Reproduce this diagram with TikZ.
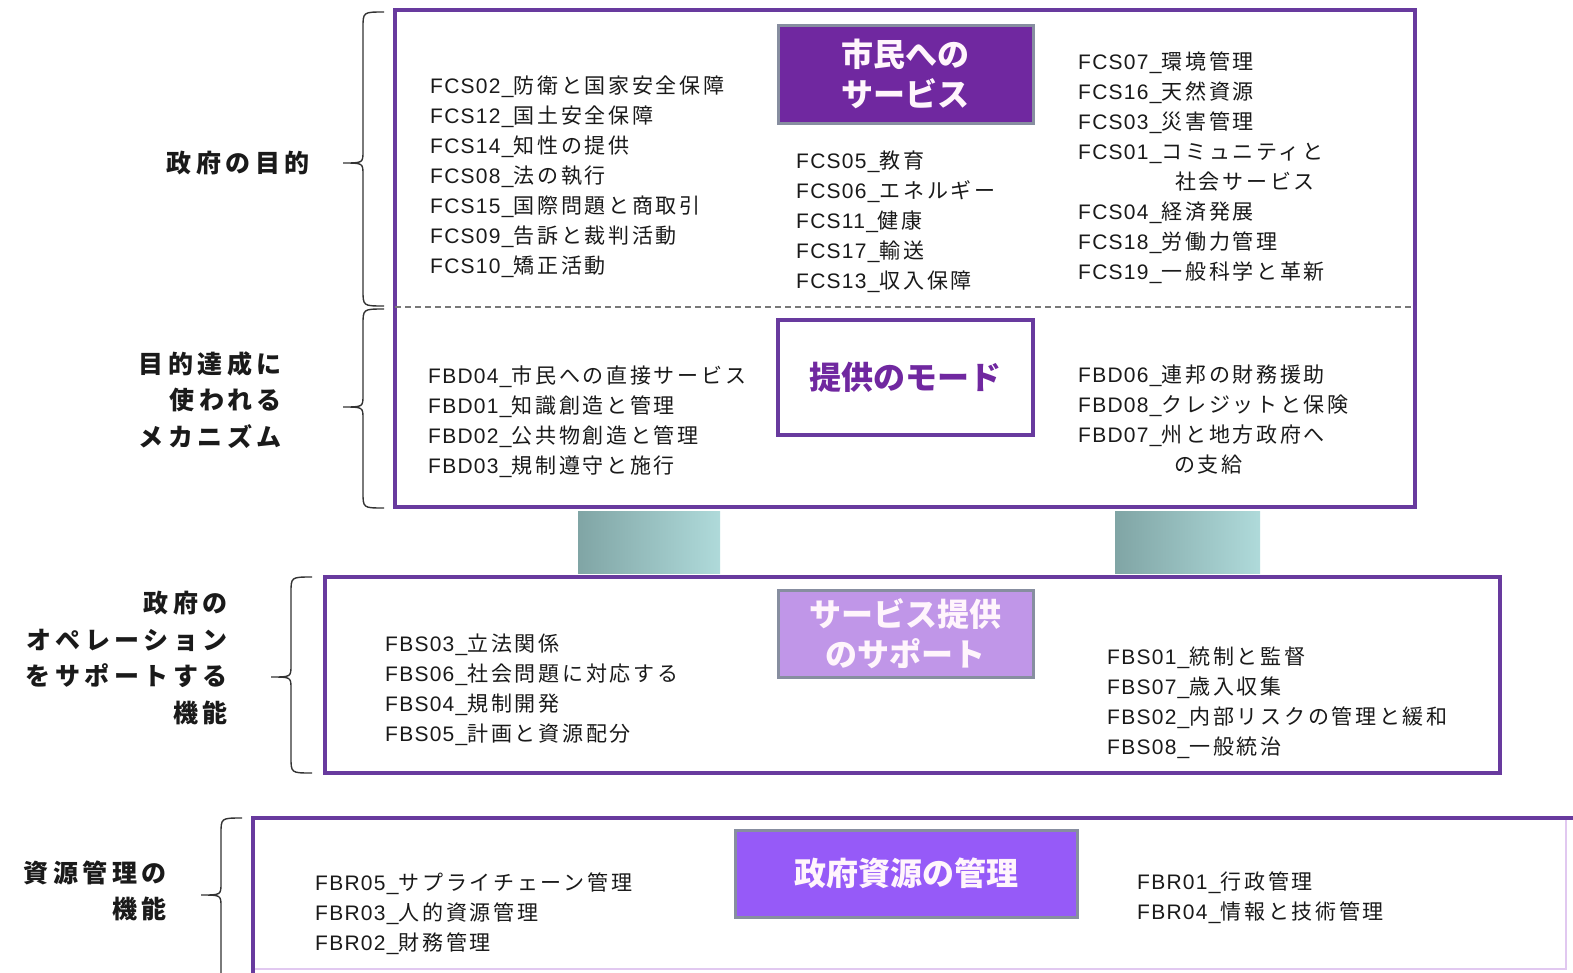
\documentclass[tikz,border=0pt]{standalone}
\usepackage{fontspec}
\usetikzlibrary{calc}
\newfontfamily\listfont{Noto Sans CJK JP}[LetterSpace=13]
\newfontfamily\latinfont{Liberation Sans}[LetterSpace=6]
\newfontfamily\labfont{Noto Sans CJK JP}[LetterSpace=18]
\newfontfamily\ttlfont{Noto Sans CJK JP}
\newcommand\code[1]{{\latinfont #1\_}}
\definecolor{boxpurple}{RGB}{104,58,158}
\definecolor{tdark}{RGB}{112,40,160}
\definecolor{tlight}{RGB}{192,150,232}
\definecolor{tviolet}{RGB}{150,90,248}
\definecolor{tborder}{RGB}{135,142,160}
\definecolor{pilL}{RGB}{128,165,165}
\definecolor{pilR}{RGB}{175,218,218}
\definecolor{txt}{RGB}{26,26,26}
\definecolor{lav}{RGB}{225,200,240}
\definecolor{dashgray}{RGB}{120,120,120}
\definecolor{ttxt}{RGB}{255,245,252}
\newcommand\sidebrace[4]{\draw[bracestyle] (#1+21,#2) .. controls (#1,#2) .. (#1,#2+16) -- (#1,#3-12) .. controls (#1,#3) .. (#1-20,#3) .. controls (#1,#3) .. (#1,#3+12) -- (#1,#4-16) .. controls (#1,#4) .. (#1+21,#4);}
\tikzset{
  bigbox/.style={draw=boxpurple, line width=4pt, fill=white, inner sep=0pt},
  titlebox/.style={draw=tborder, line width=3pt, inner sep=0pt, minimum width=255pt, align=center,
    font={\ttlfont\bfseries\fontsize{32}{40}\selectfont}, text=ttxt},
  listtext/.style={anchor=west, inner sep=0pt, align=left, text=txt,
    font={\listfont\fontsize{21}{30}\selectfont}},
  sidelabel/.style={anchor=east, inner sep=0pt, align=right, text=txt,
    font={\labfont\bfseries\fontsize{25}{36.5}\selectfont}},
  bracestyle/.style={draw=black!80, line width=1.4pt},
  pillar/.style={left color=pilL, right color=pilR}
}
\begin{document}
\begin{tikzpicture}[x=1pt,y=-1pt]
\useasboundingbox[fill=white] (0,0) rectangle (1573,972);

% main boxes
\node[bigbox, minimum width=1020pt, minimum height=497pt] (top) at (905,258.5) {};
\node[bigbox, minimum width=1175pt, minimum height=196pt] (mid) at (912.5,675) {};

% pillars between the boxes
\path[pillar] ($(top.south west)+(185,2)$) rectangle ($(mid.north west)+(397,-2)$);
\path[pillar] ($(top.south west)+(722,2)$) rectangle ($(mid.north west)+(937,-2)$);

% dashed divider
\draw[dashgray, line width=1.3pt, dash pattern=on 6pt off 4pt] ($(top.west)+(2,48.5)$) -- ($(top.east)+(-2,48.5)$);

% bottom box (cut by the picture edge)
\draw[lav, line width=1.5pt] (1566,818) -- (1566,969) -- (253,969);
\draw[boxpurple, line width=4pt] (1573,818) -- (253,818) -- (253,975);

% title boxes
\node[titlebox, fill=tdark, minimum height=98pt] (t1) at (905.5,74) {市民への\\サービス};
\node[titlebox, fill=white, draw=boxpurple, line width=4pt, minimum height=115pt, text=tdark] (t2) at (905.5,377.5) {提供のモード};
\node[titlebox, fill=tlight, minimum height=87pt] (t3) at (905.5,633.5) {サービス提供\\のサポート};
\node[titlebox, fill=tviolet, minimum width=342pt, minimum height=87pt] (t4) at (906,873.5) {政府資源の管理};

% lists
\node[listtext] (fcsL) at (430,177) {\code{FCS02}防衛と国家安全保障\\\code{FCS12}国土安全保障\\\code{FCS14}知性の提供\\\code{FCS08}法の執行\\\code{FCS15}国際問題と商取引\\\code{FCS09}告訴と裁判活動\\\code{FCS10}矯正活動};
\node[listtext] (fcsC) at (796,222) {\code{FCS05}教育\\\code{FCS06}エネルギー\\\code{FCS11}健康\\\code{FCS17}輸送\\\code{FCS13}収入保障};
\node[listtext] (fcsR) at (1078,168) {\code{FCS07}環境管理\\\code{FCS16}天然資源\\\code{FCS03}災害管理\\\code{FCS01}コミュニティと\\\hspace*{97pt}社会サービス\\\code{FCS04}経済発展\\\code{FCS18}労働力管理\\\code{FCS19}一般科学と革新};
\node[listtext] (fbdL) at (428,422) {\code{FBD04}市民への直接サービス\\\code{FBD01}知識創造と管理\\\code{FBD02}公共物創造と管理\\\code{FBD03}規制遵守と施行};
\node[listtext] (fbdR) at (1078,420) {\code{FBD06}連邦の財務援助\\\code{FBD08}クレジットと保険\\\code{FBD07}州と地方政府へ\\\hspace*{96pt}の支給};
\node[listtext] (fbsL) at (385,690) {\code{FBS03}立法関係\\\code{FBS06}社会問題に対応する\\\code{FBS04}規制開発\\\code{FBS05}計画と資源配分};
\node[listtext] (fbsR) at (1107,703) {\code{FBS01}統制と監督\\\code{FBS07}歳入収集\\\code{FBS02}内部リスクの管理と緩和\\\code{FBS08}一般統治};
\node[listtext] (fbrL) at (315,914) {\code{FBR05}サプライチェーン管理\\\code{FBR03}人的資源管理\\\code{FBR02}財務管理};
\node[listtext] (fbrR) at (1137,898) {\code{FBR01}行政管理\\\code{FBR04}情報と技術管理};

% side labels and braces
\node[sidelabel] (l1) at (310,163) {政府の目的};
\node[sidelabel] (l2) at (282,400) {目的達成に\\使われる\\メカニズム};
\node[sidelabel] (l3) at (228,658) {政府の\\オペレーション\\をサポートする\\機能};
\node[sidelabel] (l4) at (167,891) {資源管理の\\機能};
\sidebrace{363}{12}{163}{306}
\sidebrace{363}{309}{407}{508}
\sidebrace{291}{577}{677}{773}
\sidebrace{221}{818}{895}{985}
\end{tikzpicture}
\end{document}
